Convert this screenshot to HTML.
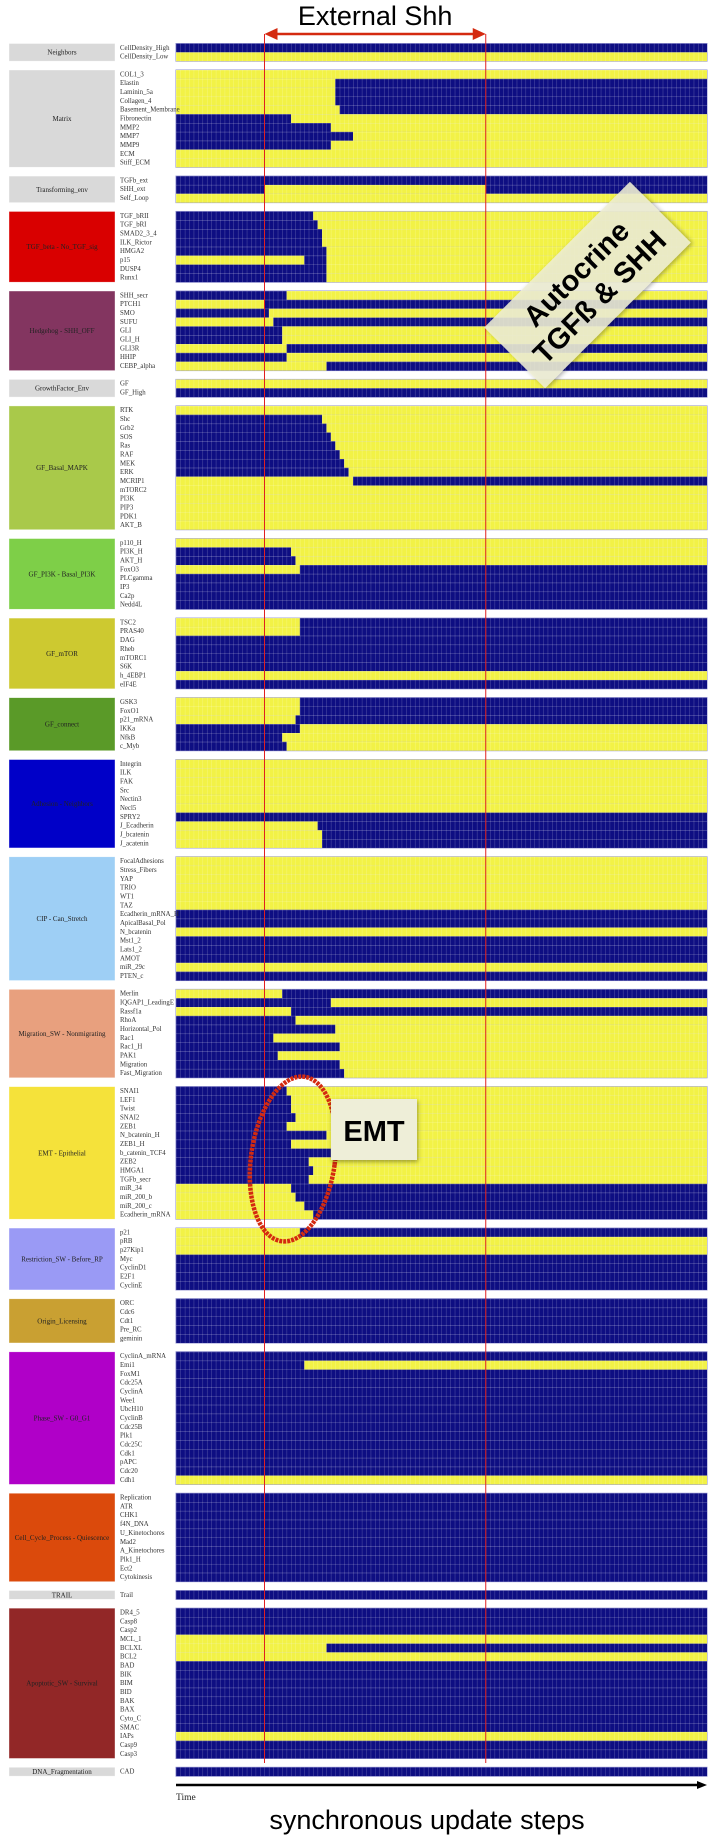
<!DOCTYPE html>
<html><head><meta charset="utf-8"><style>
html,body{margin:0;padding:0;background:#fff;}
svg{display:block;}
.rl{font-family:"Liberation Serif",serif;font-size:6.8px;fill:#333;}
.gl{font-family:"Liberation Serif",serif;font-size:7px;fill:#222;}
</style></head><body>
<svg id="chart" width="710" height="1842" viewBox="0 0 710 1842" xmlns="http://www.w3.org/2000/svg">
<defs>
<pattern id="grid" x="176" y="43.5" width="4.425" height="8.84" patternUnits="userSpaceOnUse">
<line x1="0.2" y1="0" x2="0.2" y2="8.84" stroke="rgba(255,255,255,0.32)" stroke-width="0.5"/>
<line x1="0" y1="0.2" x2="4.425" y2="0.2" stroke="rgba(255,255,255,0.32)" stroke-width="0.5"/>
</pattern>
<filter id="shadow" x="-20%" y="-20%" width="140%" height="140%"><feDropShadow dx="1" dy="2" stdDeviation="2" flood-color="#000" flood-opacity="0.35"/></filter>
</defs>
<g id="groups"></g>
<g id="cells"></g>
<g id="labels"></g>
</svg>
<script>
const groupNames = ["Neighbors","Matrix","Transforming_env","TGF_beta - No_TGF_sig","Hedgehog - SHH_OFF","GrowthFactor_Env","GF_Basal_MAPK","GF_PI3K - Basal_PI3K","GF_mTOR","GF_connect","Adhesion - Neighbors","CIP - Can_Stretch","Migration_SW - Nonmigrating","EMT - Epithelial","Restriction_SW - Before_RP","Origin_Licensing","Phase_SW - G0_G1","Cell_Cycle_Process - Quiescence","TRAIL","Apoptotic_SW - Survival","DNA_Fragmentation"];
const groupSizes = [2,11,3,8,9,2,14,8,8,6,10,14,10,15,7,5,15,10,1,17,1];
const groupColors = ["#d9d9d9","#d9d9d9","#d9d9d9","#d90000","#833560","#d9d9d9","#a9c94a","#7ecf48","#cdc930","#5a9a28","#0000c8","#9ecff5","#e8a07e","#f5e23a","#9a9af5","#c9a032","#b000c8","#db4a0c","#d9d9d9","#922727","#d9d9d9"];
const rowNames = ["CellDensity_High","CellDensity_Low",
"COL1_3","Elastin","Laminin_5a","Collagen_4","Basement_Membrane","Fibronectin","MMP2","MMP7","MMP9","ECM","Stiff_ECM",
"TGFb_ext","SHH_ext","Self_Loop",
"TGF_bRII","TGF_bRI","SMAD2_3_4","ILK_Rictor","HMGA2","p15","DUSP4","Runx1",
"SHH_secr","PTCH1","SMO","SUFU","GLI","GLI_H","GLI3R","HHIP","CEBP_alpha",
"GF","GF_High",
"RTK","Shc","Grb2","SOS","Ras","RAF","MEK","ERK","MCRIP1","mTORC2","PI3K","PIP3","PDK1","AKT_B",
"p110_H","PI3K_H","AKT_H","FoxO3","PLCgamma","IP3","Ca2p","Nedd4L",
"TSC2","PRAS40","DAG","Rheb","mTORC1","S6K","h_4EBP1","eIF4E",
"GSK3","FoxO1","p21_mRNA","IKKa","NfkB","c_Myb",
"Integrin","ILK","FAK","Src","Nectin3","Necl5","SPRY2","J_Ecadherin","J_bcatenin","J_acatenin",
"FocalAdhesions","Stress_Fibers","YAP","TRIO","WT1","TAZ","Ecadherin_mRNA_H","ApicalBasal_Pol","N_bcatenin","Mst1_2","Lats1_2","AMOT","miR_29c","PTEN_c",
"Merlin","IQGAP1_LeadingE","Rassf1a","RhoA","Horizontal_Pol","Rac1","Rac1_H","PAK1","Migration","Fast_Migration",
"SNAI1","LEF1","Twist","SNAI2","ZEB1","N_bcatenin_H","ZEB1_H","b_catenin_TCF4","ZEB2","HMGA1","TGFb_secr","miR_34","miR_200_b","miR_200_c","Ecadherin_mRNA",
"p21","pRB","p27Kip1","Myc","CyclinD1","E2F1","CyclinE",
"ORC","Cdc6","Cdt1","Pre_RC","geminin",
"CyclinA_mRNA","Emi1","FoxM1","Cdc25A","CyclinA","Wee1","UbcH10","CyclinB","Cdc25B","Plk1","Cdc25C","Cdk1","pAPC","Cdc20","Cdh1",
"Replication","ATR","CHK1","f4N_DNA","U_Kinetochores","Mad2","A_Kinetochores","Plk1_H","Ect2","Cytokinesis",
"Trail",
"DR4_5","Casp8","Casp2","MCL_1","BCLXL","BCL2","BAD","BIK","BIM","BID","BAK","BAX","Cyto_C","SMAC","IAPs","Casp9","Casp3",
"CAD"];
const rowStart = [1,0,
0,0,0,0,0,1,1,1,1,0,0,
1,1,0,
1,1,1,1,1,0,1,1,
1,0,1,0,1,1,0,1,0,
0,1,
0,1,1,1,1,1,1,1,0,0,0,0,0,0,
0,1,1,0,1,1,1,1,
0,0,1,1,1,1,0,1,
0,0,0,1,1,1,
0,0,0,0,0,0,1,0,0,0,
0,0,0,0,0,0,1,1,0,1,1,1,0,1,
0,1,0,1,1,1,1,1,1,1,
1,1,1,1,1,1,1,1,1,1,1,0,0,0,0,
0,0,0,1,1,1,1,
1,1,1,1,1,
1,1,1,1,1,1,1,1,1,1,1,1,1,1,0,
1,1,1,1,1,1,1,1,1,1,
1,
1,1,1,0,0,0,1,1,1,1,1,1,1,1,0,1,1,
1];
const rowSwitches = [[],[],
[],[36],[36],[36],[37],[26],[35],[40],[35],[],[],
[],[20,70],[],
[31],[32],[33],[33],[34],[29,34],[34],[34],
[25],[20],[21],[22],[24],[24],[25],[25],[34],
[],[],
[],[33],[34],[35],[36],[37],[38],[39],[40],[],[],[],[],[],
[],[26],[27],[28],[],[],[],[],
[28],[28],[],[],[],[],[],[],
[28],[28],[27],[28],[24],[25],
[],[],[],[],[],[],[],[32],[33],[33],
[],[],[],[],[],[],[],[],[],[],[],[],[],[],
[24],[35],[26],[27],[36],[22],[37],[23],[37],[38],
[25],[26],[26],[27],[25],[34],[26],[35],[30],[31],[30],[26],[27],[29],[31],
[28],[],[],[],[],[],[],
[],[],[],[],[],
[],[29],[],[],[],[],[],[],[],[],[],[],[],[],[],
[],[],[],[],[],[],[],[],[],[],
[],
[],[],[],[],[34],[],[],[],[],[],[],[],[],[],[],[],[],
[]];
const nSteps = 120;
const shhWindow = [20,70];

const NS = "http://www.w3.org/2000/svg";
const X0 = 176, X1 = 707, Y0 = 43.5, PITCH = 8.84;
const CW = (X1 - X0) / nSteps;
const BLUE = "#0e0e82", YEL = "#f2f246";
function xs(c){ return X0 + c*CW; }
function ys(p){ return Y0 + p*PITCH; }
function mk(tag, attrs, parent){ const e=document.createElementNS(NS,tag); for(const k in attrs) e.setAttribute(k, attrs[k]); parent.appendChild(e); return e; }
const gG = document.getElementById('groups'), gC = document.getElementById('cells'), gL = document.getElementById('labels'), svg = document.getElementById('chart');

let p = 0, r = 0;
groupNames.forEach((gname, gi) => {
  const n = groupSizes[gi];
  const top = ys(p), h = n*PITCH;
  const box = mk('rect', {x:9, y:top, width:106, height:h, fill:groupColors[gi], stroke:'rgba(255,255,255,0.6)', 'stroke-width':0.6}, gG);
  
  
  const gt = mk('text', {x:62, y:top + h/2 + 2.4, 'text-anchor':'middle', class:'gl'}, gG);
  gt.textContent = gname;
  
  
  const bg = mk('rect', {x:X0-0.5, y:top-0.5, width:X1-X0+1, height:h+1, fill:'#8f8fd0'}, gC);
  
  
  for (let i = 0; i < n; i++, r++) {
    const y = ys(p + i);
    const lt = mk('text', {x:120, y:y + 6.3, class:'rl'}, gL);
    lt.textContent = rowNames[r];
    
    
    const sw = [0].concat(rowSwitches[r]).concat([nSteps]);
    let v = rowStart[r];
    for (let k = 0; k < sw.length - 1; k++) {
      const c0 = sw[k], c1 = sw[k+1];
      if (c1 > c0) {
        const seg = mk('rect', {x:xs(c0), y:y, width:xs(c1)-xs(c0), height:PITCH, fill: v ? BLUE : YEL}, gC);
        
        
      }
      v = 1 - v;
    }
  }
  const gr = mk('rect', {x:X0, y:top, width:X1-X0, height:h, fill:'url(#grid)'}, gC);
  
  
  p += n + 1;
});
const lastY = ys(p - 1);

// External Shh markers
shhWindow.forEach(c => {
  const l = mk('line', {x1:xs(c), y1:34, x2:xs(c), y2:1763, stroke:'#e02020', 'stroke-width':1}, svg);
  
  
});
const ax1 = xs(shhWindow[0]), ax2 = xs(shhWindow[1]);
const arr = mk('line', {x1:ax1+10, y1:34, x2:ax2-10, y2:34, stroke:'#d42a10', 'stroke-width':2.5}, svg);


const ah1 = mk('polygon', {points:`${ax1},34 ${ax1+13},28 ${ax1+13},40`, fill:'#d42a10'}, svg);


const ah2 = mk('polygon', {points:`${ax2},34 ${ax2-13},28 ${ax2-13},40`, fill:'#d42a10'}, svg);


const et = mk('text', {x:(ax1+ax2)/2, y:25, 'text-anchor':'middle', 'font-family':'Liberation Sans, sans-serif', 'font-size':27, fill:'#000'}, svg);
et.textContent = 'External Shh';



// Autocrine callout
const ag = mk('g', {transform:'translate(587.5,285) rotate(-45)'}, svg);


mk('rect', {x:-103, y:-43, width:206, height:86, fill:'rgba(238,238,212,0.88)', filter:'url(#shadow)'}, ag);
const at1 = mk('text', {x:0, y:-6, 'text-anchor':'middle', 'font-family':'Liberation Sans, sans-serif', 'font-weight':'bold', 'font-size':29, fill:'#000'}, ag);
at1.textContent = 'Autocrine';


const at2 = mk('text', {x:0, y:27, 'text-anchor':'middle', 'font-family':'Liberation Sans, sans-serif', 'font-weight':'bold', 'font-size':29, fill:'#000'}, ag);
at2.textContent = 'TGFß & SHH';



// EMT ellipse + callout
const el = mk('ellipse', {cx:293, cy:1159, rx:42, ry:83, fill:'none', stroke:'#d42a10', 'stroke-width':4.5, 'stroke-dasharray':'3 1', transform:'rotate(8 293 1159)'}, svg);


const eb = mk('rect', {x:331, y:1099, width:86, height:61, fill:'#eeeed8', filter:'url(#shadow)'}, svg);


const emt = mk('text', {x:374, y:1141, 'text-anchor':'middle', 'font-family':'Liberation Sans, sans-serif', 'font-weight':'bold', 'font-size':29, fill:'#000'}, svg);
emt.textContent = 'EMT';



// Time axis
const ta = mk('line', {x1:X0, y1:1785, x2:X1-8, y2:1785, stroke:'#000', 'stroke-width':2.5}, svg);


const tah = mk('polygon', {points:`${X1},1785 ${X1-10},1781 ${X1-10},1789`, fill:'#000'}, svg);


const tt = mk('text', {x:X0, y:1800, 'font-family':'Liberation Serif, serif', 'font-size':9.5, fill:'#222'}, svg);
tt.textContent = 'Time';


const st = mk('text', {x:427, y:1829, 'text-anchor':'middle', 'font-family':'Liberation Sans, sans-serif', 'font-size':27, fill:'#000'}, svg);
st.textContent = 'synchronous update steps';


</script>
</body></html>
